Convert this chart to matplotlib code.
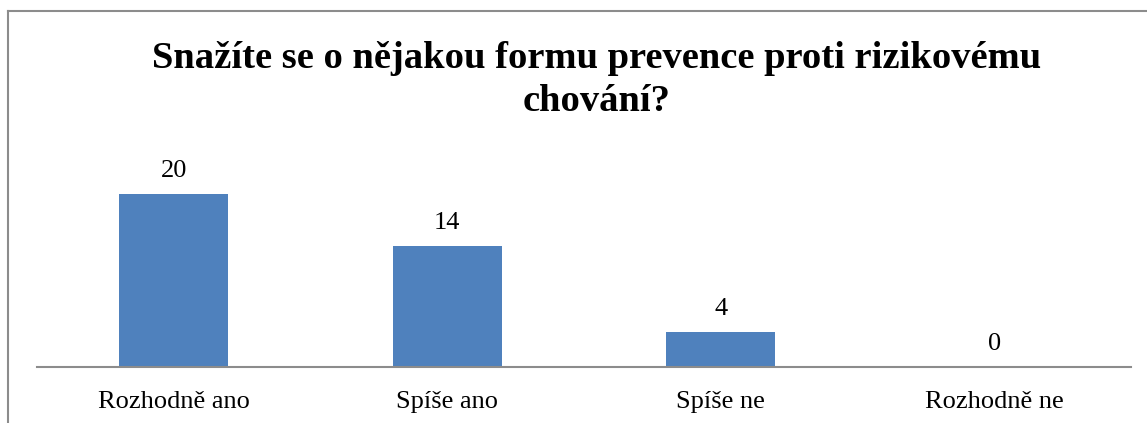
import matplotlib.pyplot as plt
from matplotlib.lines import Line2D

categories = ['Rozhodně ano', 'Spíše ano', 'Spíše ne', 'Rozhodně ne']
values = [20, 14, 4, 0]
title = 'Snažíte se o nějakou formu prevence proti rizikovému\nchování?'

plt.rcParams['font.family'] = ['Liberation Serif', 'DejaVu Serif']

W, H = 1147, 423
fig = plt.figure(figsize=(W / 100, H / 100), dpi=100)

# chart border (top and left only visible)
fig.add_artist(Line2D([8 / W, 8 / W], [0, 1 - 11 / H], color='#8c8c8c', lw=1.5))
fig.add_artist(Line2D([8 / W, 1], [1 - 11 / H, 1 - 11 / H], color='#8c8c8c', lw=1.5))

ax = fig.add_axes([37 / W, (H - 367) / H, 1094 / W, 216 / H])
x = range(len(categories))
bars = ax.bar(x, values, width=0.4, color='#4F81BD')
ax.set_xlim(-0.5, len(categories) - 0.5)
ax.set_ylim(0, 25)

for xi, v in zip(x, values):
    ax.text(xi, v + 1.4, str(v), ha='center', va='bottom', fontsize=19)

for s in ['top', 'right', 'left']:
    ax.spines[s].set_visible(False)
ax.spines['bottom'].set_color('#8c8c8c')
ax.spines['bottom'].set_linewidth(1.5)
ax.set_yticks([])
ax.set_xticks(list(x))
ax.set_xticklabels(categories, fontsize=19)
ax.tick_params(axis='x', length=0, pad=17)

fig.text(597 / W, 1 - 80 / H, title, ha='center', va='center',
         fontsize=27.7, fontweight='bold', linespacing=1.32)

fig.savefig('out.png', dpi=100)
